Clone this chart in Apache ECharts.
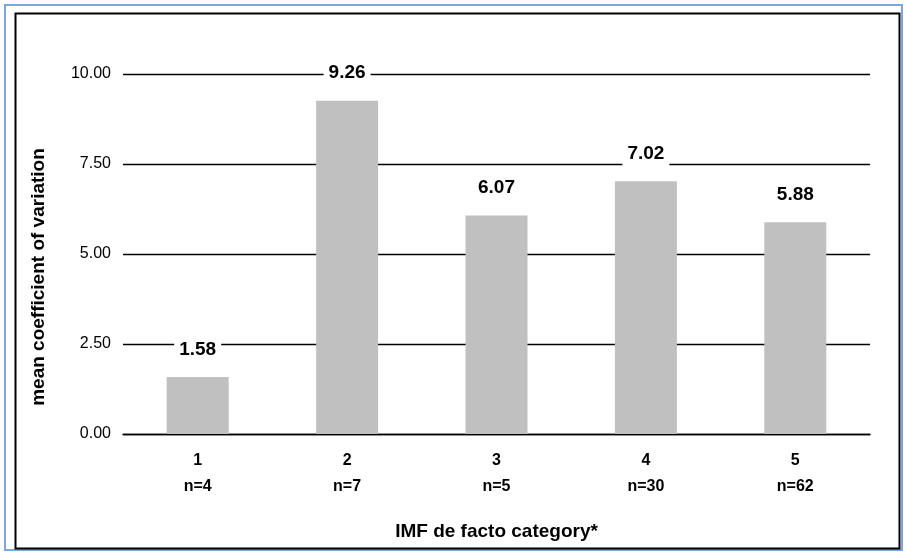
<!DOCTYPE html>
<html>
<head>
<meta charset="utf-8">
<script src="https://cdn.jsdelivr.net/npm/echarts@6/dist/echarts.min.js"></script>
<style>
  html, body { margin: 0; padding: 0; background: #fff; }
  #chart { width: 907px; height: 555px; }
</style>
</head>
<body>
<div id="chart"></div>
<script>
// Category codes and group sizes shown under each bar
const categories = ['1', '2', '3', '4', '5'];
const groupSizes = ['n=4', 'n=7', 'n=5', 'n=30', 'n=62'];
// Mean coefficient of variation per category
const meanCV = [1.58, 9.26, 6.07, 7.02, 5.88];
// Value-axis range
const yMin = 0, yMax = 10, yStep = 2.5;

const chart = echarts.init(document.getElementById('chart'), null, { renderer: 'canvas' });

const font = 'Arial, "Liberation Sans", sans-serif';

chart.setOption({
  animation: false,
  backgroundColor: '#fff',
  graphic: [
    { type: 'rect', shape: { x: 5, y: 5, width: 897, height: 545 },
      style: { fill: 'none', stroke: '#7fa6dc', lineWidth: 2 }, silent: true },
    { type: 'rect', shape: { x: 15.5, y: 13.5, width: 884, height: 535 },
      style: { fill: 'none', stroke: '#000', lineWidth: 2 }, silent: true }
  ],
  grid: { left: 123, right: 37, top: 74, bottom: 121, containLabel: false },
  xAxis: {
    type: 'category',
    data: categories.map((c, i) => c + '\n' + groupSizes[i]),
    name: 'IMF de facto category*',
    nameLocation: 'middle',
    nameGap: 88,
    nameTextStyle: { fontFamily: font, fontSize: 19, fontWeight: 'bold', color: '#000' },
    axisLine: { show: true, lineStyle: { color: '#000', width: 1.3 } },
    axisTick: { show: false },
    axisLabel: { fontFamily: font, fontSize: 16, fontWeight: 'bold', color: '#000',
                 margin: 14, lineHeight: 26 }
  },
  yAxis: {
    type: 'value',
    min: yMin, max: yMax, interval: yStep,
    name: 'mean coefficient of variation',
    nameLocation: 'middle',
    nameGap: 75,
    nameRotate: 90,
    nameTextStyle: { fontFamily: font, fontSize: 19, fontWeight: 'bold', color: '#000',
                     padding: [0, 46, 0, 0] },
    axisLine: { show: false },
    axisTick: { show: false },
    axisLabel: { fontFamily: font, fontSize: 16, color: '#000', margin: 12,
                 formatter: v => v.toFixed(2) },
    splitLine: { lineStyle: { color: '#000', width: 1.3 } }
  },
  series: [{
    type: 'bar',
    data: meanCV,
    barWidth: 62,
    itemStyle: { color: '#c0c0c0' },
    label: {
      show: true,
      position: 'top',
      distance: 15,
      formatter: p => p.value.toFixed(2),
      fontFamily: font, fontSize: 19, fontWeight: 'bold', color: '#000',
      backgroundColor: '#fff',
      padding: [3, 5]
    }
  }]
});
</script>
</body>
</html>
